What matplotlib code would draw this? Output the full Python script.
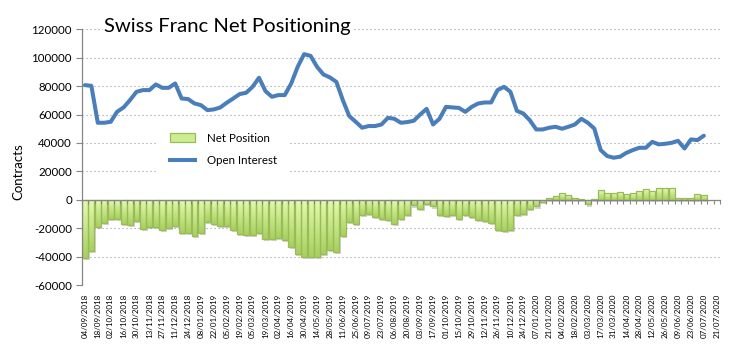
import sys

import numpy as np
from matplotlib import pyplot as plt
from matplotlib.patches import Patch
from matplotlib.lines import Line2D
from matplotlib import patheffects as pe
from matplotlib.colors import LinearSegmentedColormap


# weekly report dates (last two weeks have no data yet)
dates = [
    '04/09/2018', '11/09/2018', '18/09/2018', '25/09/2018', '02/10/2018', '09/10/2018',
    '16/10/2018', '23/10/2018', '30/10/2018', '06/11/2018', '13/11/2018', '20/11/2018',
    '27/11/2018', '04/12/2018', '11/12/2018', '18/12/2018', '24/12/2018', '31/12/2018',
    '08/01/2019', '15/01/2019', '22/01/2019', '29/01/2019', '05/02/2019', '12/02/2019',
    '19/02/2019', '26/02/2019', '05/03/2019', '12/03/2019', '19/03/2019', '26/03/2019',
    '02/04/2019', '09/04/2019', '16/04/2019', '23/04/2019', '30/04/2019', '07/05/2019',
    '14/05/2019', '21/05/2019', '28/05/2019', '04/06/2019', '11/06/2019', '18/06/2019',
    '25/06/2019', '02/07/2019', '09/07/2019', '16/07/2019', '23/07/2019', '30/07/2019',
    '06/08/2019', '13/08/2019', '20/08/2019', '27/08/2019', '03/09/2019', '10/09/2019',
    '17/09/2019', '24/09/2019', '01/10/2019', '08/10/2019', '15/10/2019', '22/10/2019',
    '29/10/2019', '05/11/2019', '12/11/2019', '19/11/2019', '26/11/2019', '03/12/2019',
    '10/12/2019', '17/12/2019', '24/12/2019', '31/12/2019', '07/01/2020', '14/01/2020',
    '21/01/2020', '28/01/2020', '04/02/2020', '11/02/2020', '18/02/2020', '25/02/2020',
    '03/03/2020', '10/03/2020', '17/03/2020', '24/03/2020', '31/03/2020', '07/04/2020',
    '14/04/2020', '21/04/2020', '28/04/2020', '05/05/2020', '12/05/2020', '19/05/2020',
    '26/05/2020', '02/06/2020', '09/06/2020', '16/06/2020', '23/06/2020', '30/06/2020',
    '07/07/2020', '14/07/2020', '21/07/2020',
]

net_position = [
    -40700, -36300, -19200, -16400, -13600, -13600, -16800, -17500, -15200, -20800,
    -19000, -19400, -21000, -19900, -18500, -23200, -23200, -25700, -23200, -15700,
    -16800, -18300, -18300, -21000, -23900, -25000, -24600, -23400, -27600, -27600,
    -26900, -28100, -33200, -37900, -40200, -40200, -40200, -37900, -35100, -36500,
    -25500, -15700, -16800, -11000, -10300, -12200, -13300, -14500, -16800, -13300,
    -11000, -4000, -6300, -2800, -4700, -10500, -11700, -11000, -13300, -11000,
    -12200, -14000, -15200, -16100, -21000, -22200, -21000, -11000, -9800, -6300,
    -4700, -1400, 1400, 3000, 4700, 3300, 1400, 700, -3300, 700,
    7000, 4900, 4900, 5600, 4200, 4900, 5900, 7700, 6300, 8400,
    8400, 8400, 1200, 1200, 1200, 4200, 3500,
]

open_interest = [
    80700, 80200, 54200, 54200, 54900, 62000, 65000, 70200, 76000, 77200,
    77200, 81200, 78800, 78800, 81900, 71300, 70900, 67800, 66600, 63100,
    63600, 65000, 68300, 71300, 74400, 75300, 79500, 85900, 76500, 72500,
    73700, 73700, 81900, 93600, 102500, 101300, 93600, 88200, 86100, 83000,
    70200, 58900, 54900, 50700, 51900, 51900, 53000, 57700, 57000, 54200,
    54700, 55600, 60000, 64000, 53000, 57000, 65400, 65000, 64700, 61900,
    65400, 67800, 68500, 68500, 77200, 79500, 76000, 62600, 60700, 56000,
    49500, 49500, 50700, 51400, 50000, 51400, 53000, 57000, 54200, 50200,
    35000, 30800, 29600, 30300, 33100, 35000, 36600, 36600, 40800, 39000,
    39400, 40100, 41500, 36100, 42500, 42000, 45100,
]

y_ticks = [-60000, -40000, -20000, 0, 20000, 40000, 60000, 80000, 100000, 120000]

BLUE = '#4a7ebb'
GREEN_EDGE = '#9bbb59'
GREEN_LIGHT = '#e4fbb0'
GREEN_DARK = '#a6d05e'
AXIS_GREY = '#868686'

#######################################################

def gradient_bars(ax, bars):
    cmap = LinearSegmentedColormap.from_list('grn', [GREEN_DARK, GREEN_LIGHT])
    grad = np.linspace(0, 1, 64).reshape(-1, 1)
    for b in bars:
        x0 = b.get_x()
        x1 = x0 + b.get_width()
        y0 = min(b.get_y(), b.get_y() + b.get_height())
        y1 = max(b.get_y(), b.get_y() + b.get_height())
        im = ax.imshow(grad, extent=(x0, x1, y0, y1), origin='lower',
                       aspect='auto', cmap=cmap, zorder=2.1,
                       interpolation='bilinear')
        im.set_clip_path(b)

#######################################################

def main():

    plt.rcParams['font.family'] = ['Lato', 'DejaVu Sans']

    fig = plt.figure(figsize=(7.44, 3.53), dpi=100)
    ax = fig.add_axes([0.1098, 0.1926, 0.8579, 0.7244])

    n = len(dates)
    x = np.arange(len(net_position))

    # filled bars with a soft drop shadow
    bars = ax.bar(x, net_position, width=0.92, facecolor=GREEN_LIGHT,
                  edgecolor='none', zorder=2,
                  path_effects=[pe.SimplePatchShadow(offset=(1.2, -1.5),
                                                     shadow_rgbFace='#808080',
                                                     alpha=0.35),
                                pe.Normal()])
    gradient_bars(ax, bars)
    # outlines on top of the gradients
    ax.bar(x, net_position, width=0.92, facecolor='none',
           edgecolor=GREEN_EDGE, linewidth=0.9, zorder=2.2)

    ax.plot(x, open_interest, color=BLUE, linewidth=2.9, solid_joinstyle='round',
            solid_capstyle='round', zorder=3)

    ax.set_xlim(-0.5, n - 0.5)
    ax.set_ylim(-60000, 120000)

    ax.set_yticks(y_ticks)
    ax.set_yticklabels([str(v) for v in y_ticks], fontsize=8.3)
    ax.yaxis.grid(True, linestyle=(0, (1, 2.6)), color='#9a9a9a', linewidth=0.8)
    ax.set_axisbelow(True)
    ax.tick_params(axis='y', length=4, color=AXIS_GREY, width=0.8, pad=3)

    ax.set_xticks(np.arange(0, n, 2))
    ax.set_xticklabels(dates[::2], rotation=90, fontsize=5.8, va='top')
    ax.tick_params(axis='x', length=0, pad=6)

    for side in ['top', 'right', 'bottom']:
        ax.spines[side].set_visible(False)
    ax.spines['left'].set_color(AXIS_GREY)
    ax.spines['left'].set_linewidth(0.9)

    # category axis drawn through zero
    zero_frac = (0 - (-60000)) / 180000.0
    sec = ax.secondary_xaxis(zero_frac)
    sec.set_xticks(np.arange(-0.5, n, 1.0))
    sec.set_xticklabels([])
    sec.tick_params(axis='x', direction='out', length=3, color=AXIS_GREY, width=0.8)
    sec.spines['bottom'].set_color(AXIS_GREY)
    sec.spines['bottom'].set_linewidth(0.9)
    sec.set_zorder(2.5)

    handles = [Patch(facecolor='#cdee90', edgecolor=GREEN_EDGE, linewidth=0.9),
               Line2D([], [], color=BLUE, linewidth=2.9)]
    leg = ax.legend(handles, ['Net Position', 'Open Interest'], loc='center',
                    bbox_to_anchor=(0.222, 0.53), fontsize=8.3, frameon=True,
                    handlelength=2.2, handleheight=0.8, handletextpad=1.0,
                    labelspacing=1.0, borderpad=1.0, fancybox=False)
    leg.get_frame().set_facecolor('white')
    leg.get_frame().set_edgecolor('none')
    leg.get_frame().set_alpha(1.0)

    ax.text(0.035, 0.989, 'Swiss Franc Net Positioning', transform=ax.transAxes,
            fontsize=14.6, va='baseline', ha='left', zorder=5,
            bbox=dict(facecolor='white', edgecolor='none', pad=1.0))

    fig.text(18 / 744.0, 1 - 172 / 353.0, 'Contracts', rotation=90,
             fontsize=9.5, va='center', ha='center')

    fig.savefig('out.png', dpi=100)


#######################################################

if __name__ == '__main__':
    sys.exit(main())
